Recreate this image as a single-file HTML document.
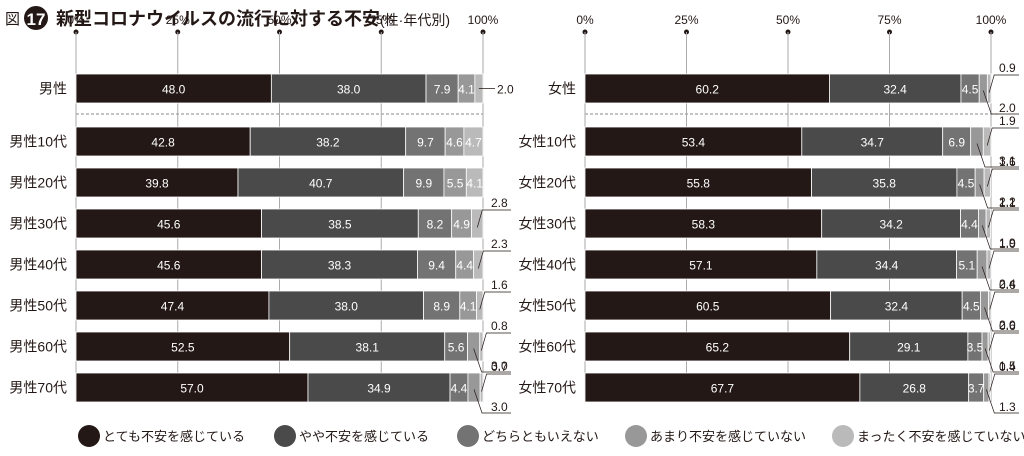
<!DOCTYPE html>
<html><head><meta charset="utf-8"><style>
body{margin:0;background:#fff;}
svg{display:block;font-family:"Liberation Sans","Noto Sans CJK JP",sans-serif;}
.n{font-family:"Liberation Sans Narrow","Liberation Sans",sans-serif;}
</style></head><body>
<svg id="c" width="1024" height="456" viewBox="0 0 1024 456">
<text x="5" y="24" font-size="15" fill="#231815">図</text>
<circle cx="36" cy="18" r="12" fill="#231815"/>
<text x="36" y="25" font-size="17" font-weight="bold" fill="#fff" text-anchor="middle" class="n">17</text>
<text x="56" y="25" font-size="18" font-weight="bold" fill="#231815">新型コロナウイルスの流行に対する不安<tspan font-size="14" font-weight="normal">(性·年代別)</tspan></text>
<line x1="76" y1="114" x2="483" y2="114" stroke="#888" stroke-dasharray="3,2"/>
<line x1="585" y1="114" x2="1000" y2="114" stroke="#888" stroke-dasharray="3,2"/>
<g id="g"></g>
</svg>
<script>
const ticks=["0%","25%","50%","75%","100%"];
const tickVals=[0,25,50,75,100];
const legendLabels=["とても不安を感じている","やや不安を感じている","どちらともいえない","あまり不安を感じていない","まったく不安を感じていない"];
const leftCats=["男性","男性10代","男性20代","男性30代","男性40代","男性50代","男性60代","男性70代"];
const leftS1=[48.0,42.8,39.8,45.6,45.6,47.4,52.5,57.0];
const leftS2=[38.0,38.2,40.7,38.5,38.3,38.0,38.1,34.9];
const leftS3=[7.9,9.7,9.9,8.2,9.4,8.9,5.6,4.4];
const leftS4=[4.1,4.6,5.5,4.9,4.4,4.1,3.0,3.0];
const leftS5=[2.0,4.7,4.1,2.8,2.3,1.6,0.8,0.7];
const rightCats=["女性","女性10代","女性20代","女性30代","女性40代","女性50代","女性60代","女性70代"];
const rightS1=[60.2,53.4,55.8,58.3,57.1,60.5,65.2,67.7];
const rightS2=[32.4,34.7,35.8,34.2,34.4,32.4,29.1,26.8];
const rightS3=[4.5,6.9,4.5,4.4,5.1,4.5,3.5,3.7];
const rightS4=[2.0,3.1,2.2,1.9,2.4,2.0,1.5,1.3];
const rightS5=[0.9,1.9,1.6,1.1,1.0,0.6,0.6,0.4];
const colors=["#231815","#4a4a4a","#737373","#989898","#bababa"];
const NS="http://www.w3.org/2000/svg";
const g=document.getElementById('g');
function mk(t,a,txt){const e=document.createElementNS(NS,t);for(const k in a)e.setAttribute(k,a[k]);if(txt!==undefined)e.textContent=txt;g.appendChild(e);return e;}
function rowY(i){return i===0?74:127+(i-1)*41;}
const BH=29;
function drawChart(x0,x1,cats,series,side){
  const xs=v=>x0+(x1-x0)*v/100;
  tickVals.forEach((v,i)=>{
    let t=mk('text',{x:xs(v),y:24,'font-size':12,'text-anchor':'middle',fill:'#231815',class:'n'},ticks[i]);
    
    let c=mk('circle',{cx:xs(v),cy:32,r:2.5,fill:'#231815'});
    
    let l=mk('line',{x1:xs(v),y1:32,x2:xs(v),y2:402,stroke:'#aaa','stroke-width':1});
    
  });
  cats.forEach((cat,i)=>{
    const y=rowY(i),cy=y+BH/2;
    let lab=mk('text',{x:x0-9,y:cy+5,'font-size':14,'text-anchor':'end',fill:'#231815'},cat);
    
    let acc=0;const ends=[];
    series.forEach((s,k)=>{
      const v=s[i],xa=xs(acc),xb=xs(acc+v);
      let r=mk('rect',{x:xa,y:y,width:Math.max(0,xb-xa),height:BH,fill:colors[k],stroke:'#fff','stroke-width':0.8});
      
      ends.push([xa,xb,v]);acc+=v;
    });
    // inside labels
    ends.forEach(([xa,xb,v],k)=>{
      const w=xb-xa;
      if(w>=14){
        let t=mk('text',{x:(xa+xb)/2,y:cy+5,'font-size':12,'text-anchor':'middle',fill:'#fff',class:'n'},v.toFixed(1));
        
      }else if(k===2){
        let t=mk('text',{x:xa-4,y:y+8,'font-size':12,'text-anchor':'middle',fill:'#231815',class:'n'},v.toFixed(1));
        
        let l=mk('polyline',{points:`${xa-16},${y+11} ${xa+6},${y+11} ${xa+10},${cy+3}`,fill:'none',stroke:'#231815','stroke-width':0.7});
        
      }
    });
    const e4=ends[3],e5=ends[4];
    const lx=x1+8;
    const small4=(e4[1]-e4[0])<14,small5=(e5[1]-e5[0])<14;
    if(i===0&&small5&&!small4){
      let t=mk('text',{x:lx+6,y:cy+5,'font-size':12,fill:'#231815',class:'n'},e5[2].toFixed(1));
      
      let l=mk('line',{x1:(e5[0]+e5[1])/2,y1:cy,x2:lx+4,y2:cy,stroke:'#231815','stroke-width':0.7});
      
    }else{
      if(small5){
        const mx=(e5[0]+e5[1])/2;
        let t=mk('text',{x:lx,y:y-2,'font-size':12,fill:'#231815',class:'n'},e5[2].toFixed(1));
        
        let l=mk('polyline',{points:`${lx+20},${y+1} ${mx+5},${y+1} ${mx},${cy+4}`,fill:'none',stroke:'#231815','stroke-width':0.7});
        
      }
      if(small4){
        const mx=(e4[0]+e4[1])/2;
        let t=mk('text',{x:lx,y:y+BH+9,'font-size':12,fill:'#231815',class:'n'},e4[2].toFixed(1));
        
        let l=mk('polyline',{points:`${mx},${cy+2} ${mx+8},${y+BH+11} ${lx+20},${y+BH+11}`,fill:'none',stroke:'#231815','stroke-width':0.7});
        
      }
    }
  });
}
drawChart(76,483,leftCats,[leftS1,leftS2,leftS3,leftS4,leftS5],'male');
drawChart(585,991,rightCats,[rightS1,rightS2,rightS3,rightS4,rightS5],'female');
const lgX=[89,285,468,636,843];
legendLabels.forEach((s,k)=>{
  let c=mk('circle',{cx:lgX[k],cy:436,r:11,fill:colors[k]});
  
  let t=mk('text',{x:lgX[k]+14,y:441,'font-size':13,fill:'#231815'},s);
  
});
</script>
</body></html>
